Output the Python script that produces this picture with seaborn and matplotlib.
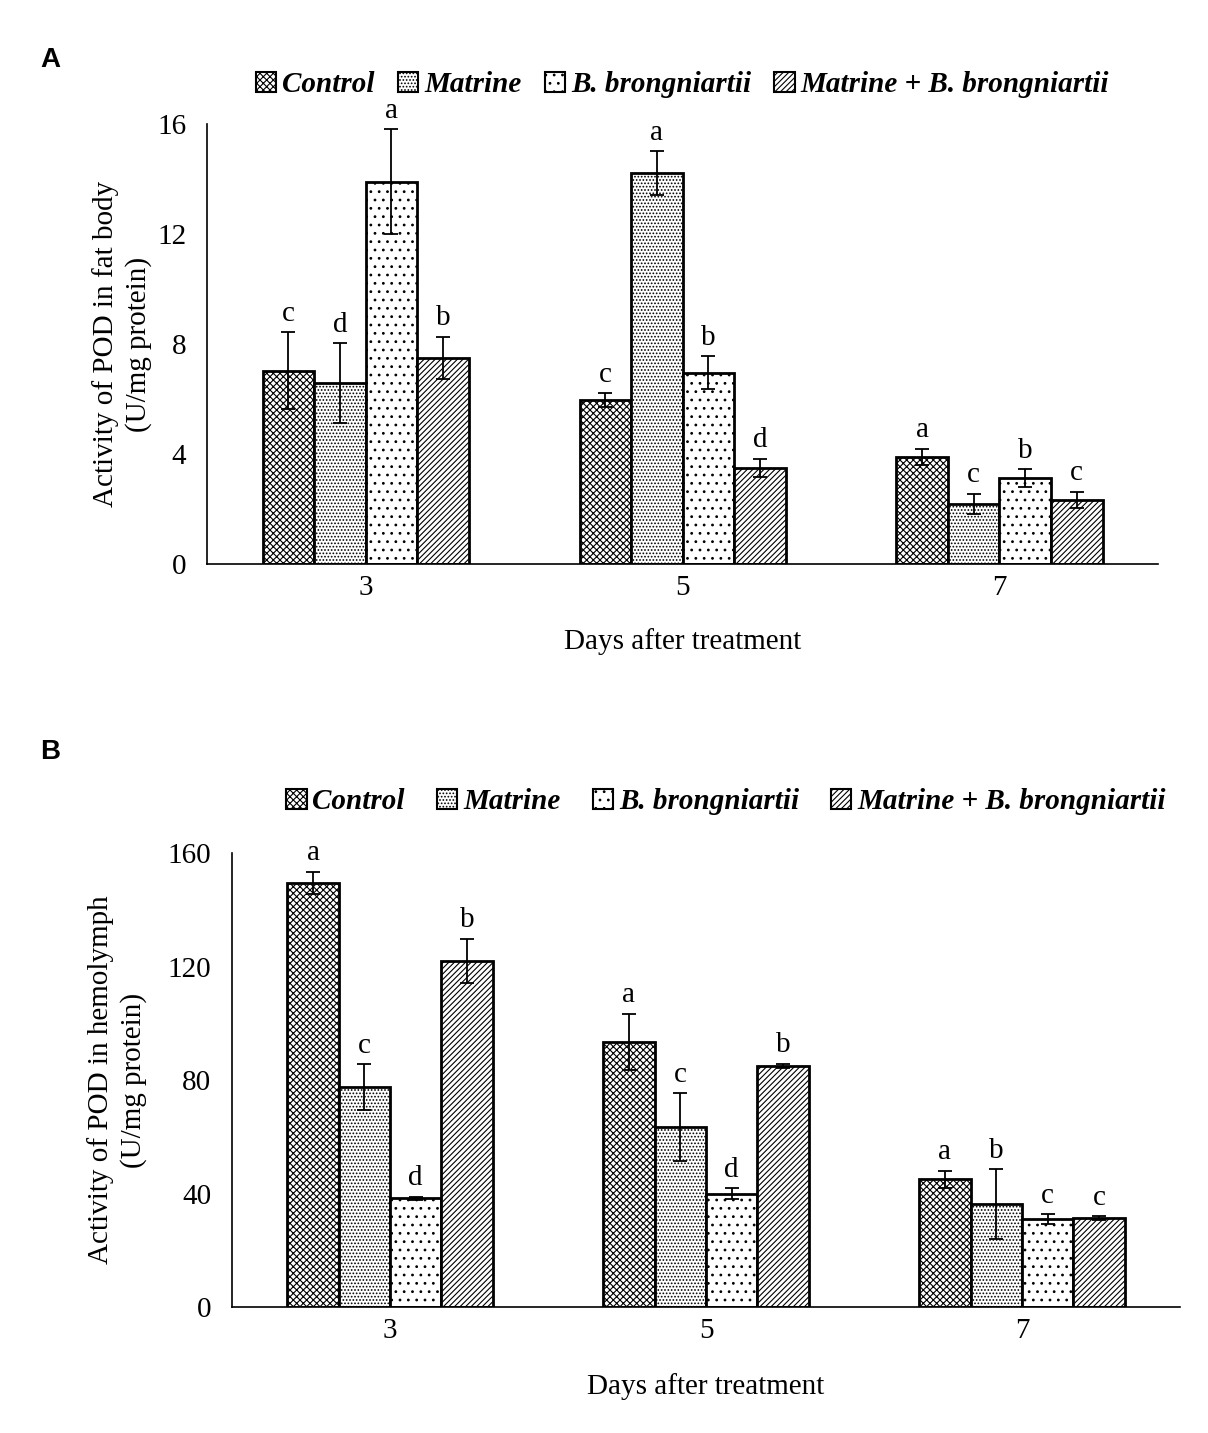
import numpy as np
import pandas as pd
import matplotlib
matplotlib.use("Agg")
import matplotlib.pyplot as plt
from matplotlib.patches import Patch
import seaborn as sns

days = ["3", "5", "7"]
treatments = ["Control", "Matrine", "B. brongniartii", "Matrine + B. brongniartii"]

# Panel A: POD in fat body (U/mg protein)
fat_control = [7.02, 5.96, 3.90]
fat_matrine = [6.58, 14.20, 2.18]
fat_bb = [13.90, 6.95, 3.13]
fat_mb = [7.49, 3.49, 2.33]
fat_control_err = [1.40, 0.25, 0.30]
fat_matrine_err = [1.45, 0.80, 0.37]
fat_bb_err = [1.90, 0.60, 0.32]
fat_mb_err = [0.78, 0.33, 0.30]
fat_control_let = ["c", "c", "a"]
fat_matrine_let = ["d", "a", "c"]
fat_bb_let = ["a", "b", "b"]
fat_mb_let = ["b", "d", "c"]

# Panel B: POD in hemolymph (U/mg protein)
hem_control = [149.4, 93.4, 45.1]
hem_matrine = [77.5, 63.4, 36.3]
hem_bb = [38.4, 40.0, 30.9]
hem_mb = [121.9, 84.9, 31.3]
hem_control_err = [4.0, 10.0, 3.0]
hem_matrine_err = [8.0, 12.0, 12.3]
hem_bb_err = [0.5, 1.8, 1.8]
hem_mb_err = [7.8, 0.8, 0.7]
hem_control_let = ["a", "a", "a"]
hem_matrine_let = ["c", "c", "b"]
hem_bb_let = ["d", "d", "c"]
hem_mb_let = ["b", "b", "c"]

hatches = ["xxxxx", ".....", "..", "//////"]

sns.set_style("white")
plt.rcParams["font.family"] = ["Liberation Serif", "DejaVu Serif"]
plt.rcParams["hatch.linewidth"] = 0.8
for k in ["text.color", "axes.labelcolor", "xtick.color", "ytick.color", "axes.edgecolor"]:
    plt.rcParams[k] = "black"
FS = 21


def long_form(means, errs, lets):
    rows = []
    for t, m, e, l in zip(treatments, means, errs, lets):
        for d, mv, ev, lv in zip(days, m, e, l):
            rows.append({"day": d, "treatment": t, "value": mv, "err": ev, "letter": lv})
    return pd.DataFrame(rows)


def draw_panel(ax, df, ymax, ystep, ylabel, label_x, leg_y, leg_dx, colsp):
    sns.barplot(data=df, x="day", y="value", hue="treatment", order=days,
                hue_order=treatments, palette=["white"] * 4, saturation=1,
                edgecolor="black", linewidth=2.0, width=0.65, errorbar=None,
                legend=False, ax=ax)
    for cont, h, t in zip(ax.containers, hatches, treatments):
        sub = df[df["treatment"] == t].set_index("day").loc[days]
        for bar, (_, r) in zip(cont, sub.iterrows()):
            bar.set_hatch(h)
            cx = bar.get_x() + bar.get_width() / 2
            ax.errorbar(cx, r["value"], yerr=r["err"], fmt="none", ecolor="black",
                        elinewidth=1.3, capsize=5, capthick=1.3, zorder=5)
            ax.annotate(r["letter"], (cx, r["value"] + r["err"]), xytext=(0, 4),
                        textcoords="offset points", ha="center", va="bottom",
                        fontsize=FS, annotation_clip=False)

    ax.set_ylim(0, ymax)
    ax.set_yticks(np.arange(0, ymax + 1e-9, ystep))
    ax.set_xlim(-0.5, 2.5)
    ax.set_xticks([-0.5, 0.5, 1.5, 2.5])
    ax.set_xticklabels([])
    ax.set_xticks([0, 1, 2], minor=True)
    ax.set_xticklabels(days, minor=True)
    ax.tick_params(axis="x", which="major", direction="out", length=8, width=1.2)
    ax.tick_params(axis="x", which="minor", length=0, pad=8, labelsize=FS)
    ax.tick_params(axis="y", direction="out", length=8, width=1.2, pad=7, labelsize=FS)
    for s in ["top", "right"]:
        ax.spines[s].set_visible(False)
    for s in ["left", "bottom"]:
        ax.spines[s].set_linewidth(1.2)
    ax.set_xlabel("Days after treatment", fontsize=FS)
    ax.xaxis.set_label_coords(0.5, -0.145)
    ax.set_ylabel(ylabel, fontsize=FS, linespacing=1.3)
    ax.yaxis.set_label_coords(label_x, 0.5)

    handles = [Patch(facecolor="white", edgecolor="black", hatch=h, linewidth=1.5)
               for h in hatches]
    ax.legend(handles, treatments, loc="lower center",
              bbox_to_anchor=(0.5 + leg_dx, leg_y), ncol=4, frameon=False,
              handlelength=0.7, handleheight=0.7, handletextpad=0.2,
              columnspacing=colsp, borderaxespad=0,
              prop={"size": FS, "weight": "bold", "style": "italic"})


fig = plt.figure(figsize=(12.08, 14.33), dpi=100)
axA = fig.add_axes([0.1714, 0.6064, 0.7872, 0.3071])
axB = fig.add_axes([0.1921, 0.0879, 0.7847, 0.3168])

dfA = long_form([fat_control, fat_matrine, fat_bb, fat_mb],
                [fat_control_err, fat_matrine_err, fat_bb_err, fat_mb_err],
                [fat_control_let, fat_matrine_let, fat_bb_let, fat_mb_let])
dfB = long_form([hem_control, hem_matrine, hem_bb, hem_mb],
                [hem_control_err, hem_matrine_err, hem_bb_err, hem_mb_err],
                [hem_control_let, hem_matrine_let, hem_bb_let, hem_mb_let])

draw_panel(axA, dfA, 16, 4, "Activity of POD in fat body\n(U/mg protein)",
           -0.058, 1.032, 0.0, 0.8)
draw_panel(axB, dfB, 160, 40, "Activity of POD in hemolymph\n(U/mg protein)",
           -0.09, 1.058, 0.021, 1.1)

fig.text(40 / 1208, 1 - 60 / 1433, "A", fontsize=20, fontweight="bold",
         family="Liberation Sans", ha="left", va="center")
fig.text(40 / 1208, 1 - 752 / 1433, "B", fontsize=20, fontweight="bold",
         family="Liberation Sans", ha="left", va="center")

fig.savefig("out.png", dpi=100)
